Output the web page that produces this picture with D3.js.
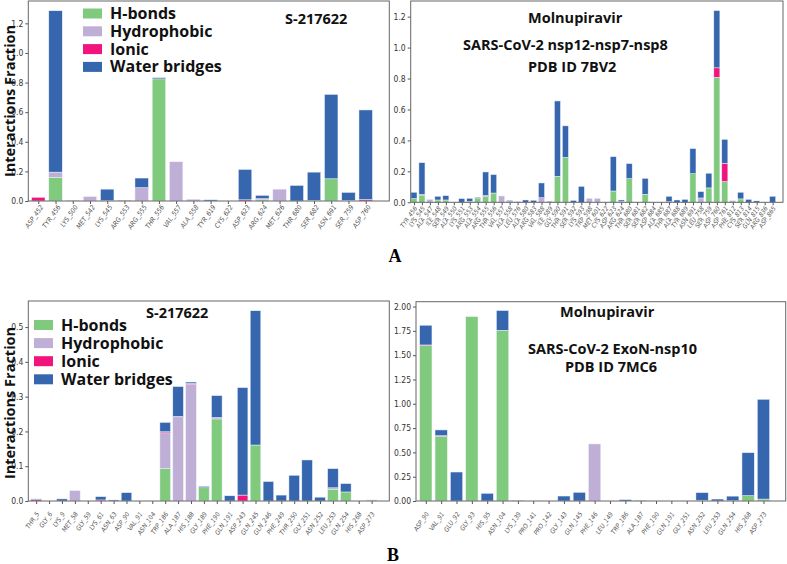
<!DOCTYPE html>
<html>
<head>
<meta charset="utf-8">
<script src="https://cdn.jsdelivr.net/npm/d3@7"></script>
<style>
  body { margin: 0; background: #fff; }
  svg { display: block; }
  .tick text { font-family: "Liberation Sans Narrow", "DejaVu Sans Condensed", "Roboto", sans-serif; font-stretch: condensed; }
</style>
</head>
<body>
<svg width="787" height="564"></svg>
<script>
(function () {
    'use strict';

    var keys = ['hbonds', 'hydrophobic', 'ionic', 'water'];
    var names = ['H-bonds', 'Hydrophobic', 'Ionic', 'Water bridges'];
    var colors = ['#80ca7e', '#bfaed6', '#f0147c', '#3566ae'];

    // panel A, S-217622
    var aLeftCats = ['ASP_452', 'TYR_456', 'LYS_500', 'MET_542', 'LYS_545', 'ARG_553', 'ARG_555', 'THR_556', 'VAL_557', 'ALA_558',
        'TYR_619', 'CYS_622', 'ASP_623', 'ARG_624', 'MET_626', 'THR_680', 'SER_682', 'ASN_691', 'SER_759', 'ASP_760'];
    var aLeftH = [0, 0.16, 0, 0, 0.003, 0, 0, 0.825, 0, 0, 0, 0, 0, 0.008, 0, 0, 0.005, 0.15, 0.005, 0];
    var aLeftP = [0, 0.035, 0, 0.03, 0, 0, 0.09, 0, 0.265, 0.012, 0, 0, 0, 0.008, 0.08, 0, 0, 0, 0, 0];
    var aLeftI = [0.025, 0, 0, 0, 0, 0.005, 0, 0, 0, 0, 0, 0, 0.008, 0, 0, 0, 0, 0, 0, 0.01];
    var aLeftW = [0, 1.09, 0.003, 0, 0.077, 0, 0.065, 0.008, 0, 0, 0.008, 0, 0.205, 0.022, 0, 0.105, 0.19, 0.57, 0.053, 0.605];

    // panel A, Molnupiravir
    var aRightCats = ['TYR_456', 'LYS_545', 'ALA_547', 'ILE_548', 'SER_549', 'ALA_550', 'LYS_551', 'ARG_553', 'ALA_554', 'ARG_555',
        'THR_556', 'VAL_557', 'ALA_558', 'LEU_576', 'ALA_580', 'ARG_583', 'VAL_588', 'ILE_589', 'GLY_590', 'THR_591',
        'SER_592', 'LYS_593', 'TRP_598', 'MET_601', 'CYS_622', 'ASP_623', 'ARG_624', 'THR_680', 'SER_681', 'SER_682',
        'ASP_684', 'ALA_685', 'THR_687', 'ALA_688', 'TYR_689', 'ASN_691', 'LEU_758', 'SER_759', 'ASP_760', 'ASP_761',
        'PHE_812', 'CYS_813', 'SER_814', 'GLN_815', 'ARG_836', 'ASP_865'];
    var aRightH = [0.024, 0.047, 0, 0.015, 0.015, 0, 0, 0, 0.024, 0.039,
        0.06, 0, 0, 0, 0, 0, 0, 0, 0.168, 0.29,
        0, 0, 0, 0, 0, 0.073, 0.005, 0.153, 0, 0.052,
        0, 0, 0, 0, 0, 0.185, 0, 0.093, 0.808, 0.134,
        0, 0.022, 0, 0, 0, 0];
    var aRightP = [0, 0, 0.019, 0, 0, 0, 0, 0, 0, 0,
        0, 0.041, 0.004, 0.005, 0, 0, 0.03, 0.008, 0, 0,
        0, 0, 0.026, 0.026, 0, 0, 0, 0, 0, 0,
        0, 0, 0, 0, 0, 0, 0.028, 0, 0, 0,
        0.011, 0, 0, 0, 0, 0];
    var aRightI = [0, 0.004, 0, 0, 0, 0, 0, 0.006, 0, 0.005,
        0, 0, 0, 0, 0, 0, 0, 0, 0, 0,
        0, 0, 0, 0, 0, 0, 0, 0, 0, 0,
        0, 0, 0.004, 0, 0, 0, 0, 0, 0.061, 0.118,
        0, 0, 0, 0, 0, 0];
    var aRightW = [0.041, 0.205, 0, 0.024, 0.028, 0, 0.024, 0.02, 0.008, 0.152,
        0.119, 0, 0.008, 0, 0.015, 0.013, 0.095, 0, 0.487, 0.204,
        0.012, 0.103, 0, 0, 0, 0.222, 0.01, 0.097, 0, 0.103,
        0, 0, 0.035, 0.015, 0.019, 0.162, 0.041, 0.095, 0.37, 0.155,
        0, 0.043, 0.019, 0.009, 0, 0.039];

    // panel B, S-217622
    var bLeftCats = ['THR_5', 'GLY_6', 'LYS_9', 'MET_58', 'GLY_59', 'LYS_61', 'ASN_63', 'ASP_90', 'VAL_91', 'ASN_104',
        'TRP_186', 'ALA_187', 'HIS_188', 'GLY_189', 'PHE_190', 'GLN_191', 'ASP_243', 'GLN_245', 'GLN_246', 'PHE_249',
        'THR_250', 'GLY_251', 'ASN_252', 'LEU_253', 'GLN_254', 'HIS_268', 'ASP_273'];
    var bLeftH = [0, 0, 0, 0, 0, 0, 0, 0, 0, 0,
        0.093, 0, 0, 0.038, 0.236, 0, 0, 0.161, 0, 0,
        0, 0, 0, 0.034, 0.026, 0, 0];
    var bLeftP = [0, 0, 0, 0.03, 0, 0, 0, 0, 0, 0,
        0.103, 0.242, 0.335, 0, 0.004, 0, 0, 0, 0, 0,
        0, 0, 0, 0.004, 0, 0, 0.002];
    var bLeftI = [0.004, 0, 0, 0, 0, 0.003, 0, 0, 0, 0,
        0.003, 0.001, 0.003, 0, 0, 0, 0.017, 0, 0, 0,
        0, 0, 0, 0, 0, 0, 0.001];
    var bLeftW = [0.002, 0, 0.006, 0, 0, 0.0095, 0.003, 0.024, 0, 0,
        0.027, 0.086, 0.004, 0.004, 0.063, 0.015, 0.309, 0.386, 0.056, 0.017,
        0.074, 0.118, 0.011, 0.055, 0.024, 0, 0];

    // panel B, Molnupiravir
    var bRightCats = ['ASP_90', 'VAL_91', 'GLU_92', 'GLY_93', 'HIS_95', 'ASN_104', 'LYS_139', 'PRO_141', 'PRO_142', 'GLY_143',
        'GLN_145', 'PHE_146', 'LEU_149', 'TRP_186', 'ALA_187', 'PHE_190', 'GLN_191', 'GLY_251', 'ASN_252', 'LEU_253',
        'GLN_254', 'HIS_268', 'ASP_273'];
    var bRightH = [1.599, 0.665, 0, 1.897, 0, 1.756, 0, 0, 0, 0,
        0, 0, 0, 0, 0, 0, 0, 0, 0.008, 0,
        0.004, 0.055, 0.02];
    var bRightP = [0, 0, 0, 0, 0, 0, 0, 0, 0, 0,
        0, 0.587, 0, 0, 0, 0, 0, 0, 0, 0,
        0, 0, 0];
    var bRightI = [0.006, 0.007, 0, 0, 0, 0, 0, 0, 0, 0,
        0, 0, 0, 0, 0, 0, 0, 0, 0, 0,
        0, 0, 0];
    var bRightW = [0.203, 0.059, 0.298, 0, 0.079, 0.203, 0.005, 0, 0, 0.051,
        0.089, 0, 0, 0.014, 0.005, 0, 0, 0, 0.078, 0.02,
        0.046, 0.442, 1.026];

    var svg = d3.select('svg');

    function rows(cats, h, p, i, w) {
        return cats.map(function (c, k) {
            return { cat: c, idx: k, hbonds: h[k], hydrophobic: p[k], ionic: i[k], water: w[k] };
        });
    }

    function drawPanel(o) {
        var data = rows(o.cats, o.h, o.p, o.i, o.w);
        var x = d3.scaleLinear().domain(o.xDomain).range([o.left, o.right]);
        var y = d3.scaleLinear().domain([0, o.yMax]).range([o.bottom, o.top]);
        var step = x(1) - x(0);
        var bw = step * o.barW;

        var series = d3.stack().keys(keys)(data);
        var g = svg.append('g');

        g.selectAll('g.layer')
            .data(series)
            .join('g')
            .attr('class', 'layer')
            .attr('fill', function (d, k) { return colors[k]; })
            .selectAll('rect')
            .data(function (d) { return d; })
            .join('rect')
            .attr('x', function (d) { return x(d.data.idx) - bw / 2; })
            .attr('width', bw)
            .attr('y', function (d) { return y(d[1]); })
            .attr('height', function (d) { return Math.max(0, y(d[0]) - y(d[1])); })
            .attr('stroke', '#eef2fa')
            .attr('stroke-width', 0.5);

        // y axis
        var yAxis = g.append('g')
            .attr('transform', 'translate(' + o.left + ',0)')
            .call(d3.axisLeft(y).tickValues(o.yTicks).tickFormat(d3.format(o.yFmt)).tickSize(3).tickPadding(2));
        yAxis.select('.domain').remove();
        yAxis.selectAll('.tick line').attr('stroke', '#555');
        yAxis.selectAll('.tick text').attr('font-size', 8.5).attr('fill', '#333');

        // x axis
        var xAxis = g.append('g')
            .attr('transform', 'translate(0,' + o.bottom + ')')
            .call(d3.axisBottom(x).tickValues(d3.range(o.cats.length)).tickSize(3).tickFormat(function (d) { return o.cats[d]; }));
        xAxis.select('.domain').remove();
        xAxis.selectAll('.tick line').attr('stroke', '#555');
        xAxis.selectAll('.tick text')
            .attr('font-size', o.labelSize)
            .attr('font-style', 'italic')
            .attr('fill', '#555')
            .attr('text-anchor', 'end')
            .attr('dy', 0)
            .attr('y', 0)
            .attr('transform', 'translate(' + o.labelDx + ',' + o.labelDy + ') rotate(-55)');

        // frame
        g.append('rect')
            .attr('x', o.left).attr('y', o.top)
            .attr('width', o.right - o.left).attr('height', o.bottom - o.top)
            .attr('fill', 'none').attr('stroke', '#666').attr('stroke-width', 1);

        // titles
        o.titles.forEach(function (t) {
            g.append('text')
                .attr('x', t[0]).attr('y', t[1])
                .attr('font-family', '"Open Sans", "Noto Sans", sans-serif')
                .attr('font-weight', 'bold')
                .attr('font-size', t[3])
                .attr('fill', '#111')
                .text(t[2]);
        });

        if (o.legend) {
            var lg = g.append('g');
            names.forEach(function (n, k) {
                var cy = o.legend.y + k * o.legend.gap;
                lg.append('rect')
                    .attr('x', o.legend.x).attr('y', cy - 5)
                    .attr('width', 19).attr('height', 10)
                    .attr('fill', colors[k]);
                lg.append('text')
                    .attr('x', o.legend.x + 27).attr('y', cy + 5.5)
                    .attr('font-family', '"Open Sans", "Noto Sans", sans-serif')
                    .attr('font-weight', 'bold')
                    .attr('font-size', 16)
                    .attr('fill', '#111')
                    .text(n);
            });
        }

        if (o.yLabel) {
            g.append('text')
                .attr('transform', 'translate(' + o.yLabel[0] + ',' + o.yLabel[1] + ') rotate(-90)')
                .attr('text-anchor', 'middle')
                .attr('font-family', '"Open Sans", "Noto Sans", sans-serif')
                .attr('font-weight', 'bold')
                .attr('font-size', 14.5)
                .attr('fill', '#111')
                .text('Interactions Fraction');
        }
    }

    drawPanel({
        cats: aLeftCats, h: aLeftH, p: aLeftP, i: aLeftI, w: aLeftW,
        left: 28.3, right: 389.3, top: 1, bottom: 201,
        xDomain: [-0.58, 20.37], yMax: 1.351, barW: 0.78,
        yTicks: [0, 0.2, 0.4, 0.6, 0.8, 1.0, 1.2], yFmt: '.1f',
        labelSize: 6.8, labelDx: 5, labelDy: 6,
        titles: [[285, 24, 'S-217622', 14.5]],
        legend: { x: 83, y: 13.5, gap: 17.8 },
        yLabel: [14.5, 101]
    });

    drawPanel({
        cats: aRightCats, h: aRightH, p: aRightP, i: aRightI, w: aRightW,
        left: 410.7, right: 783, top: 1, bottom: 202.3,
        xDomain: [-0.41, 46.3], yMax: 1.301, barW: 0.76,
        yTicks: [0, 0.2, 0.4, 0.6, 0.8, 1.0, 1.2], yFmt: '.1f',
        labelSize: 6.3, labelDx: 3, labelDy: 6,
        titles: [[528, 23, 'Molnupiravir', 14.5], [463, 50, 'SARS-CoV-2  nsp12-nsp7-nsp8', 14.5], [528, 71.5, 'PDB ID  7BV2', 14.5]]
    });

    drawPanel({
        cats: bLeftCats, h: bLeftH, p: bLeftP, i: bLeftI, w: bLeftW,
        left: 28.3, right: 389.3, top: 301, bottom: 501,
        xDomain: [-0.61, 27.37], yMax: 0.575, barW: 0.82,
        yTicks: [0, 0.1, 0.2, 0.3, 0.4, 0.5], yFmt: '.1f',
        labelSize: 6.5, labelDx: 3, labelDy: 13,
        titles: [[146, 318, 'S-217622', 14.5]],
        legend: { x: 34, y: 325, gap: 18.1 },
        yLabel: [14.5, 403]
    });

    drawPanel({
        cats: bRightCats, h: bRightH, p: bRightP, i: bRightI, w: bRightW,
        left: 416, right: 785.7, top: 301.7, bottom: 501,
        xDomain: [-0.64, 23.45], yMax: 2.05, barW: 0.8,
        yTicks: [0, 0.25, 0.5, 0.75, 1.0, 1.25, 1.5, 1.75, 2.0], yFmt: '.2f',
        labelSize: 6.5, labelDx: 3, labelDy: 13,
        titles: [[560, 316.5, 'Molnupiravir', 14.5], [528, 354, 'SARS-CoV-2 ExoN-nsp10', 14.5], [565, 371.5, 'PDB ID  7MC6', 14.5]]
    });

    // panel letters
    svg.append('text').attr('x', 395).attr('y', 262).attr('text-anchor', 'middle')
        .attr('font-family', '"Liberation Serif", "DejaVu Serif", serif').attr('font-weight', 'bold')
        .attr('font-size', 18).text('A');
    svg.append('text').attr('x', 393).attr('y', 561).attr('text-anchor', 'middle')
        .attr('font-family', '"Liberation Serif", "DejaVu Serif", serif').attr('font-weight', 'bold')
        .attr('font-size', 18).text('B');
}());
</script>
</body>
</html>
